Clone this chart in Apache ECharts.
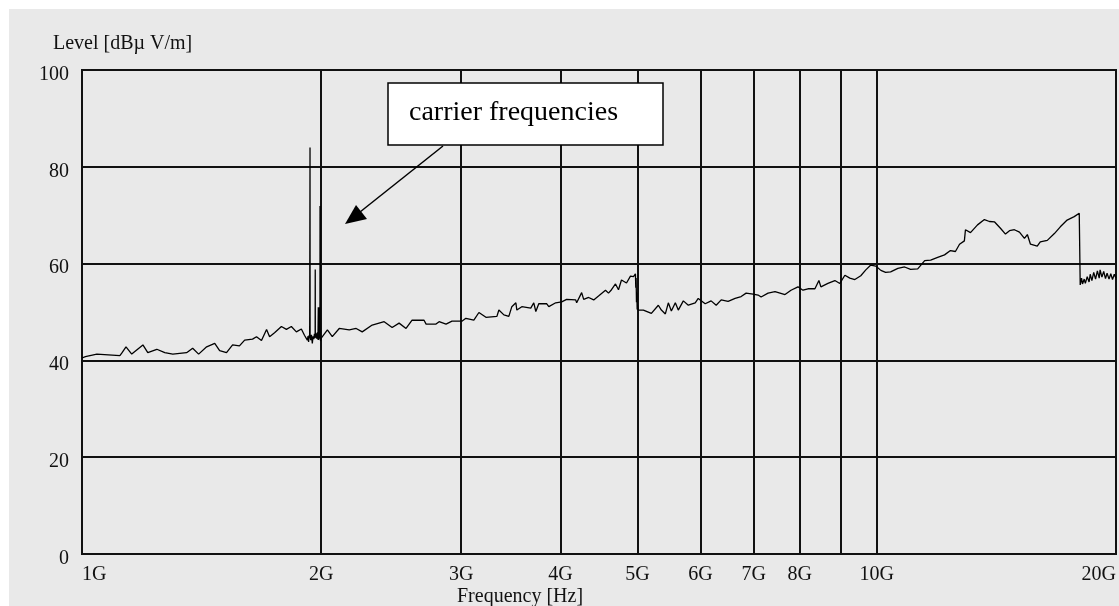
<!DOCTYPE html>
<html>
<head>
<meta charset="utf-8">
<script src="https://cdn.jsdelivr.net/npm/echarts@6/dist/echarts.min.js"></script>
<style>
  html, body { margin: 0; padding: 0; background: #ffffff; }
  #bg { position: absolute; left: 9px; top: 9px; width: 1110px; height: 597px; background: #e9e9e9; }
  #chart { position: absolute; left: 0; top: 0; width: 1119px; height: 606px; }
</style>
</head>
<body>
<div id="bg"></div>
<div id="chart"></div>
<script>
// ---- data (frequency in GHz, level in dBµV/m) ----
const freqGHz = [
  1.000,1.010,1.044,1.116,1.122,1.136,1.155,1.193,1.210,1.242,
  1.271,1.301,1.354,1.378,1.402,1.435,1.469,1.490,1.520,1.547,
  1.578,1.602,1.639,1.658,1.682,1.707,1.722,1.747,1.782,1.808,
  1.834,1.861,1.888,1.905,1.921,1.925,1.928,1.931,1.934,1.9355,
  1.936,1.9365,1.940,1.944,1.949,1.953,1.957,1.961,1.965,1.9655,
  1.966,1.970,1.974,1.978,1.981,1.983,1.985,1.987,1.989,1.991,
  1.9925,1.993,1.9935,1.996,2.000,2.036,2.065,2.107,2.169,2.213,
  2.252,2.318,2.400,2.456,2.506,2.557,2.602,2.694,2.710,2.789,
  2.814,2.871,2.921,3.006,3.041,3.112,3.158,3.223,3.327,3.346,
  3.395,3.444,3.474,3.515,3.525,3.576,3.670,3.702,3.724,3.756,
  3.844,3.867,3.945,4.014,4.072,4.180,4.192,4.253,4.278,4.340,
  4.404,4.466,4.557,4.597,4.637,4.691,4.732,4.773,4.843,4.899,
  4.942,4.970,4.975,4.980,4.985,4.990,4.995,5.000,5.013,5.086,
  5.205,5.311,5.358,5.420,5.467,5.515,5.579,5.627,5.710,5.793,
  5.910,5.962,6.083,6.189,6.280,6.372,6.501,6.634,6.751,6.849,
  6.989,7.091,7.153,7.298,7.447,7.556,7.666,7.800,7.959,8.075,
  8.193,8.360,8.457,8.506,8.680,8.857,8.986,9.118,9.250,9.385,
  9.548,9.688,9.829,9.971,10.12,10.26,10.41,10.63,10.84,11.03,
  11.26,11.49,11.69,11.93,12.17,12.38,12.56,12.71,12.89,12.93,
  13.12,13.39,13.66,13.86,14.07,14.31,14.52,14.69,14.90,15.12,
  15.34,15.47,15.61,15.92,16.06,16.39,16.73,17.02,17.36,17.72,
  17.98,18.00,18.03,18.10,18.15,18.24,18.30,18.40,18.50,18.56,
  18.65,18.75,18.85,18.95,19.05,19.10,19.20,19.30,19.40,19.49,
  19.60,19.70,19.80,19.90,20.00
];
const levelDB = [
  40.5,40.8,41.3,41.0,41.5,42.8,41.3,43.2,41.6,42.3,
  41.6,41.3,41.6,42.5,41.3,42.8,43.5,42.0,41.6,43.2,
  43.0,44.2,44.4,44.9,44.1,46.4,44.9,45.7,47.0,46.4,
  47.0,45.9,46.5,45.2,44.2,45.0,43.8,45.2,44.6,45.0,
  84.0,45.0,44.2,45.3,43.5,45.0,44.4,45.5,44.6,58.8,
  44.8,45.6,44.5,45.8,44.3,51.0,44.2,51.0,44.5,50.5,
  44.5,71.9,45.0,44.0,44.6,46.3,44.9,46.6,46.3,46.6,
  45.9,47.3,48.0,46.8,47.7,46.6,48.3,48.3,47.5,47.5,
  48.0,47.5,48.1,48.1,48.7,48.3,49.9,48.9,49.1,50.4,
  49.4,49.1,51.1,51.9,50.4,51.1,50.8,51.9,50.1,51.7,
  51.7,51.1,51.9,52.1,52.6,52.5,51.9,54.0,52.6,53.0,
  52.5,53.3,54.5,53.9,54.6,55.8,54.6,56.6,56.0,57.4,
  57.3,57.9,55.0,57.0,52.0,54.0,50.5,51.5,50.4,50.4,
  49.7,51.4,50.4,49.6,51.9,50.2,51.9,50.4,52.3,51.4,
  51.9,52.8,51.7,52.3,51.4,52.5,52.2,52.8,53.2,53.9,
  53.7,53.5,53.1,53.9,54.2,53.9,53.6,54.5,55.2,54.5,
  54.8,54.8,56.5,55.2,55.9,56.5,55.9,57.6,57.0,56.7,
  57.5,58.7,59.7,59.5,58.6,58.2,58.3,59.0,59.3,58.8,
  58.9,60.6,60.7,61.3,61.8,62.7,62.5,64.0,64.7,67.0,
  66.4,68.0,69.1,68.7,68.6,67.3,66.1,66.8,67.0,66.5,
  65.2,66.0,64.0,63.6,64.5,64.8,66.2,67.6,69.0,69.7,
  70.4,70.2,55.6,57.0,55.8,56.8,55.9,57.3,56.2,57.8,
  56.5,58.2,56.8,58.5,57.0,58.7,57.2,58.4,56.9,58.0,
  56.8,57.9,56.7,57.8,57.0
];
const xGridValues = [1, 2, 3, 4, 5, 6, 7, 8, 9, 10, 20];
const xLabelValues = [1, 2, 3, 4, 5, 6, 7, 8, 10, 20];
const yTicks = { min: 0, max: 100, interval: 20 };
const yTitle = 'Level [dBµ V/m]';
const xTitle = 'Frequency [Hz]';
const noteText = 'carrier frequencies';

const seriesData = freqGHz.map((f, i) => [f, levelDB[i]]);

const FONT = '"Liberation Serif", "Times New Roman", serif';
const INK = '#111111';

const chart = echarts.init(document.getElementById('chart'), null, { renderer: 'canvas' });
chart.setOption({
  backgroundColor: 'transparent',
  animation: false,
  grid: { left: 82, top: 70, right: 1, bottom: 52, show: true, borderColor: INK, borderWidth: 2, backgroundColor: 'transparent' },
  xAxis: {
    type: 'log', logBase: 10, min: 1, max: 20,
    axisLine: { show: true, lineStyle: { color: INK, width: 2 } },
    axisTick: { show: false, customValues: xGridValues },
    splitLine: { show: true, lineStyle: { color: INK, width: 2 } },
    minorTick: { show: false }, minorSplitLine: { show: false },
    axisLabel: {
      customValues: xLabelValues,
      formatter: v => Math.round(v) + 'G',
      alignMinLabel: 'left', alignMaxLabel: 'right',
      color: INK, fontFamily: FONT, fontSize: 20, margin: 11
    }
  },
  yAxis: {
    type: 'value', min: yTicks.min, max: yTicks.max, interval: yTicks.interval,
    axisLine: { show: true, lineStyle: { color: INK, width: 2 } },
    axisTick: { show: false },
    splitLine: { show: true, lineStyle: { color: INK, width: 2 } },
    axisLabel: { color: INK, fontFamily: FONT, fontSize: 20, margin: 13, verticalAlign: 'top', lineHeight: 9 }
  },
  series: [{
    type: 'line', data: seriesData, showSymbol: false, symbol: 'none',
    lineStyle: { color: '#000000', width: 1.3 }, z: 5
  }],
  graphic: [
    { type: 'text', left: 53, top: 34, style: { text: yTitle, font: '20px ' + FONT, fill: INK } },
    { type: 'text', left: 457, top: 587, style: { text: xTitle, font: '20px ' + FONT, fill: INK } },
    { type: 'rect', shape: { x: 388, y: 83, width: 275, height: 62 }, style: { fill: '#ffffff', stroke: '#000000', lineWidth: 1.5 }, z: 10 },
    { type: 'text', x: 409, y: 113, style: { text: noteText, font: '28px ' + FONT, fill: '#000000', verticalAlign: 'middle' }, z: 11 },
    { type: 'line', shape: { x1: 443, y1: 146, x2: 360, y2: 212 }, style: { stroke: '#000000', lineWidth: 1.5 }, z: 10 },
    { type: 'polygon', shape: { points: [[345, 224], [367, 219], [356, 205]] }, style: { fill: '#000000' }, z: 10 }
  ]
});
</script>
</body>
</html>
